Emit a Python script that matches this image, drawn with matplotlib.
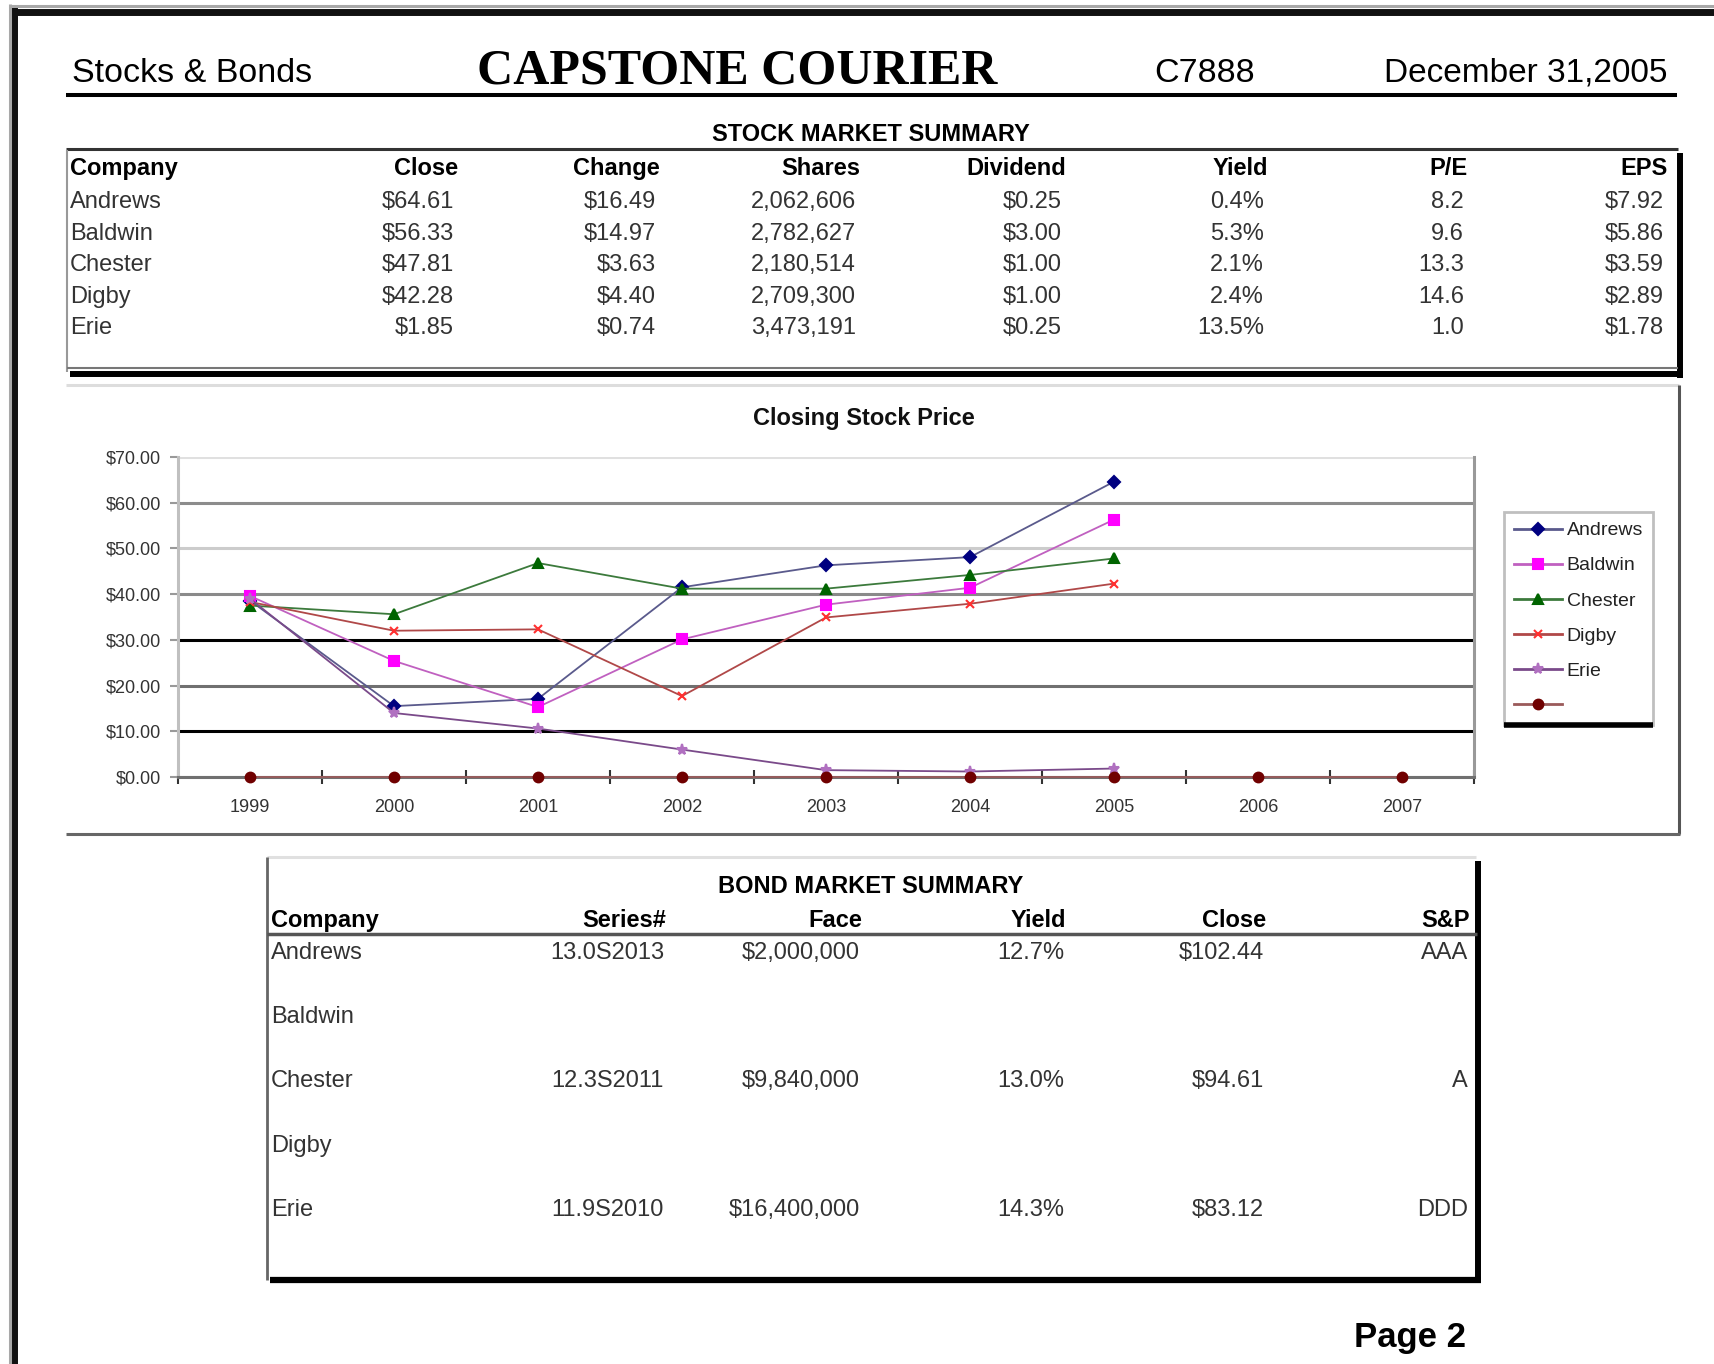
import matplotlib
matplotlib.use("Agg")
import matplotlib.pyplot as plt
from matplotlib.lines import Line2D
from matplotlib.ticker import FixedLocator, FuncFormatter, NullFormatter

# ---------------- data ----------------
companies = ["Andrews", "Baldwin", "Chester", "Digby", "Erie"]
stock_close = [64.61, 56.33, 47.81, 42.28, 1.85]
stock_change = [16.49, 14.97, 3.63, 4.40, 0.74]
stock_shares = [2062606, 2782627, 2180514, 2709300, 3473191]
stock_dividend = [0.25, 3.00, 1.00, 1.00, 0.25]
stock_yield = [0.4, 5.3, 2.1, 2.4, 13.5]
stock_pe = [8.2, 9.6, 13.3, 14.6, 1.0]
stock_eps = [7.92, 5.86, 3.59, 2.89, 1.78]

years = [1999, 2000, 2001, 2002, 2003, 2004, 2005, 2006, 2007]
price_andrews = [38.6, 15.5, 17.1, 41.5, 46.3, 48.1, 64.6]
price_baldwin = [39.6, 25.4, 15.3, 30.1, 37.7, 41.4, 56.3]
price_chester = [37.5, 35.6, 46.8, 41.2, 41.2, 44.2, 47.8]
price_digby = [38.3, 32.0, 32.3, 17.7, 34.9, 37.9, 42.3]
price_erie = [39.0, 14.0, 10.6, 6.0, 1.5, 1.2, 1.85]
price_blank = [0, 0, 0, 0, 0, 0, 0, 0, 0]
y_ticks = [0, 10, 20, 30, 40, 50, 60, 70]

bond_series = ["13.0S2013", "", "12.3S2011", "", "11.9S2010"]
bond_face = ["$2,000,000", "", "$9,840,000", "", "$16,400,000"]
bond_yield = ["12.7%", "", "13.0%", "", "14.3%"]
bond_close = ["$102.44", "", "$94.61", "", "$83.12"]
bond_rating = ["AAA", "", "A", "", "DDD"]

# ---------------- layout helpers ----------------
W, H = 1715, 1364
fig = plt.figure(figsize=(W / 100, H / 100), dpi=100)
fig.patch.set_facecolor("white")
SANS = ["Liberation Sans", "DejaVu Sans"]
SERIF = ["Liberation Serif", "DejaVu Serif"]


def fx(x):
    return x / W


def fy(y):
    return 1 - y / H


def T(x, y, s, ha="left", size=17, weight="normal", color="#1a1a1a", family=None):
    fig.text(fx(x), fy(y), s, ha=ha, va="baseline", fontsize=size,
             fontweight=weight, color=color, family=family or SANS)


def hline(y, x0, x1, color, lw):
    fig.add_artist(Line2D([fx(x0), fx(x1)], [fy(y), fy(y)], color=color,
                          lw=lw, solid_capstyle="butt"))


def vline(x, y0, y1, color, lw):
    fig.add_artist(Line2D([fx(x), fx(x)], [fy(y0), fy(y1)], color=color,
                          lw=lw, solid_capstyle="butt"))


# ---------------- page frame ----------------
hline(6, 9, W, "#A8A8A8", 2.2)
hline(11.5, 12, W, "#111111", 5)
vline(10.5, 4, H, "#A8A8A8", 2.2)
vline(15, 8, H, "#111111", 4.3)

# ---------------- header ----------------
T(72, 82, "Stocks & Bonds", size=24.5, color="black")
T(737, 83, "CAPSTONE COURIER", ha="center", size=36, weight="bold",
  color="black", family=SERIF)
T(1154, 82, "C7888", size=24.5, color="black")
T(1668, 81, "December 31,2005", ha="right", size=24, color="black")
hline(95, 66, 1677, "black", 2.9)

# ---------------- stock market summary ----------------
T(871, 141, "STOCK MARKET SUMMARY", ha="center", size=17, weight="bold", color="black")
hline(148.5, 66, 1678, "#333333", 2.2)
vline(67, 150, 372, "#999999", 1.5)
vline(1680, 153, 378, "black", 4.3)
hline(368, 67, 1678, "#777777", 1.5)
hline(374, 70, 1683, "black", 4.3)

stock_cols = [("Close", 458), ("Change", 660), ("Shares", 860), ("Dividend", 1066),
              ("Yield", 1268), ("P/E", 1468), ("EPS", 1668)]
T(70, 175, "Company", weight="bold", color="black")
for name, x in stock_cols:
    T(x, 175, name, ha="right", weight="bold", color="black")

for i, comp in enumerate(companies):
    yb = 208 + 31.6 * i
    vals = [f"${stock_close[i]:.2f}", f"${stock_change[i]:.2f}",
            f"{stock_shares[i]:,}", f"${stock_dividend[i]:.2f}",
            f"{stock_yield[i]:.1f}%", f"{stock_pe[i]:.1f}", f"${stock_eps[i]:.2f}"]
    T(70, yb, comp, color="#333333")
    for (name, x), v in zip(stock_cols, vals):
        T(x - 4, yb, v, ha="right", color="#333333")

# ---------------- chart area frame ----------------
hline(385, 66, 1679, "#DDDDDD", 2.2)
vline(1679, 385, 834, "#555555", 2.2)
hline(834, 66, 1680, "#666666", 2.2)
T(864, 425, "Closing Stock Price", ha="center", size=17, weight="bold", color="#111111")

ax = fig.add_axes([fx(178), fy(777), fx(1474) - fx(178), (777 - 457) / H])
ax.set_facecolor("white")

series = [
    ("Andrews", price_andrews, "#5A5A8C", "#000080", "D", 6),
    ("Baldwin", price_baldwin, "#C060C0", "#FF00FF", "s", 7),
    ("Chester", price_chester, "#3C7A3C", "#006400", "^", 7),
    ("Digby", price_digby, "#B04848", "#FF3030", "x", 6),
    ("Erie", price_erie, "#7A4A8A", "#B070C0", "*", 8),
    ("", price_blank, "#9A5A5A", "#700000", "o", 7),
]
handles = []
for name, vals, lc, mc, mk, ms in series:
    ax.plot(years[:len(vals)], vals, color=lc, lw=1.3, marker=mk, ms=ms,
            markerfacecolor=mc, markeredgecolor=mc, mew=1.5, zorder=3,
            clip_on=False)
    handles.append(Line2D([], [], color=lc, lw=2.0, marker=mk, ms=ms,
                          markerfacecolor=mc, markeredgecolor=mc, mew=1.5))

ax.set_xlim(years[0] - 0.5, years[-1] + 0.5)
ax.set_ylim(y_ticks[0], y_ticks[-1])
ax.yaxis.set_major_locator(FixedLocator(y_ticks))
ax.yaxis.set_major_formatter(FuncFormatter(lambda v, p: f"${v:.2f}"))
ax.xaxis.set_major_locator(FixedLocator([y - 0.5 for y in years] + [years[-1] + 0.5]))
ax.xaxis.set_major_formatter(NullFormatter())
ax.xaxis.set_minor_locator(FixedLocator(years))
ax.xaxis.set_minor_formatter(FuncFormatter(lambda v, p: f"{int(round(v))}"))
ax.tick_params(axis="x", which="major", direction="inout", length=10, width=1.5,
               color="#333333")
ax.tick_params(axis="x", which="minor", length=0, pad=16, labelsize=13,
               labelcolor="#333333")
ax.tick_params(axis="y", which="major", direction="out", length=6, width=1.5,
               color="#999999", pad=6, labelsize=13, labelcolor="#333333")
for lab in ax.get_xticklabels(which="minor") + ax.get_yticklabels():
    lab.set_family(SANS)

ax.yaxis.grid(True)
grid_colors = ["#707070", "#000000", "#707070", "#000000", "#8A8A8A", "#CCCCCC",
               "#8C8C8C", "#E0E0E0"]
for gl, c in zip(ax.get_ygridlines(), grid_colors):
    gl.set_color(c)
    gl.set_linewidth(2.2)
ax.set_axisbelow(True)
ax.spines["top"].set_visible(False)
ax.spines["left"].set_color("#C0C0C0")
ax.spines["left"].set_linewidth(2.2)
ax.spines["right"].set_color("#999999")
ax.spines["right"].set_linewidth(2.2)
ax.spines["bottom"].set_color("#707070")
ax.spines["bottom"].set_linewidth(2.2)

leg = ax.legend(handles, [s[0] for s in series], loc="upper left",
                bbox_to_anchor=(fx(1504), fy(512)), bbox_transform=fig.transFigure,
                frameon=True, fancybox=False, handlelength=2.5,
                handletextpad=0.22, labelspacing=0.9, borderpad=0.5,
                borderaxespad=0, prop={"family": SANS, "size": 14})
leg.get_frame().set_edgecolor("#B0B0B0")
leg.get_frame().set_linewidth(2)
for t in leg.get_texts():
    t.set_color("#222222")

fig.canvas.draw()
bb = leg.get_window_extent()
fig.add_artist(Line2D([bb.x0 / W, bb.x1 / W], [bb.y0 / H, bb.y0 / H],
                      color="black", lw=4, solid_capstyle="butt"))

# ---------------- bond market summary ----------------
hline(857, 267, 1476, "#E0E0E0", 2.2)
vline(267, 857, 1280, "#666666", 2)
vline(1478, 861, 1283, "black", 4.3)
hline(1280, 270, 1481, "black", 4.5)
hline(934, 267, 1477, "#555555", 2.5)
T(871, 893, "BOND MARKET SUMMARY", ha="center", size=17, weight="bold", color="black")

bond_cols = [("Series#", 666), ("Face", 862), ("Yield", 1066), ("Close", 1266),
             ("S&P", 1470)]
T(271, 927, "Company", weight="bold", color="black")
for name, x in bond_cols:
    T(x, 927, name, ha="right", weight="bold", color="black")
bond_data = [bond_series, bond_face, bond_yield, bond_close, bond_rating]
for i, comp in enumerate(companies):
    yb = 959 + 64.2 * i
    T(271, yb, comp, color="#333333")
    for (name, x), col in zip(bond_cols, bond_data):
        if col[i]:
            T(x - 2, yb, col[i], ha="right", color="#333333")

T(1466, 1347, "Page 2", ha="right", size=25, weight="bold", color="black")

fig.savefig("out.png", dpi=100, facecolor="white")
